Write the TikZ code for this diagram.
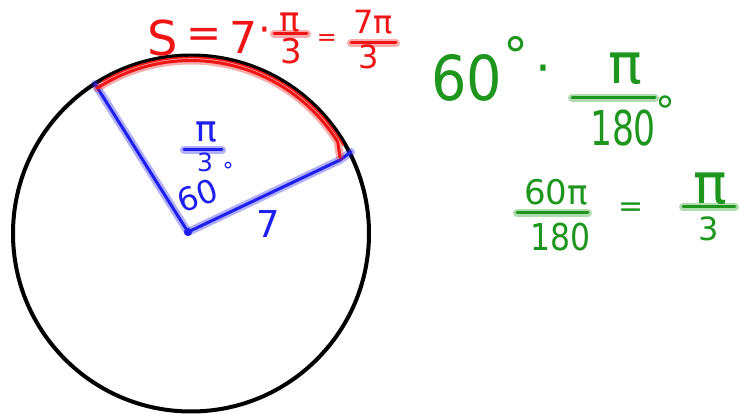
\documentclass[tikz,border=0pt]{standalone}
\usepackage{fontspec}
\setmainfont{DejaVu Sans}
\usetikzlibrary{calc}
\definecolor{hred}{RGB}{240,20,20}
\definecolor{hgreen}{RGB}{30,150,30}
\definecolor{hblue}{RGB}{30,30,240}
\newcommand{\nrw}[2]{\scalebox{#1}[1]{#2}}
\begin{document}
\begin{tikzpicture}[x=1pt,y=-1pt,
  lbl/.style={inner sep=0pt, anchor=center},
  deg/.style={inner sep=0pt, anchor=north},
  fs/.style={font=\fontsize{#1}{#1}\selectfont},
  ink/.style={draw=#1, preaction={draw=#1, line width=8pt, draw opacity=0.35, line cap=round, line join=round},
              line width=3pt, line cap=round, line join=round}]
\useasboundingbox (0,0) rectangle (740,414);
\fill[white] (0,0) rectangle (740,414);

% circle
\coordinate (O) at (191,233.5);
\draw[line width=4pt] (O) circle[radius=178];

% radii
\node[circle, fill=hblue, inner sep=0pt, minimum size=8pt] (dot) at (188,232) {};
\coordinate (A) at (95,84);
\coordinate (B) at (351,152);
\draw[ink=hblue] (dot.center) -- (A);
\draw[ink=hblue] (dot.center) -- (340,160) -- (B);

% red arc
\draw[ink=hred] ($(O)+(-122.8:173)$) arc[start angle=-122.8, end angle=-32, radius=173] -- (340,157);
\draw[hred, line width=1.5pt] ($(O)+(-120:176)$) arc[start angle=-120, end angle=-30, radius=176];

% red formula
\node[lbl,fs=48,text=hred] (rS) at (163,38) {S};
\node[lbl,fs=42,text=hred] (req1) at (204,38) {=};
\node[lbl,fs=44,text=hred] (r7) at (243,37) {7};
\node[lbl,fs=40,text=hred] (rdot) at (265,35) {·};
\node[lbl,fs=34,text=hred] (rpi) at (290,23) {π};
\draw[ink=hred] (274,34) -- (307,34);
\node[lbl,fs=34,text=hred] (r3) at (291,51) {3};
\node[lbl,fs=24,text=hred] (req2) at (327,40) {=};
\node[lbl,fs=32,text=hred] (r7pi) at (373,22) {7π};
\draw[ink=hred] (351,43) -- (396,43);
\node[lbl,fs=32,text=hred] (r3b) at (369,57) {3};

% green line 1
\node[lbl,fs=62,text=hgreen] (g60) at (467,78) {\nrw{0.9}{60}};
\node[deg,fs=50,text=hgreen] (gdeg1) at (516,36) {°};
\node[lbl,fs=50,text=hgreen] (gdot) at (543,75) {·};
\node[lbl,fs=56,text=hgreen] (gpi) at (625,69) {π};
\draw[ink=hgreen] (572,98) -- (655,98);
\node[lbl,fs=48,text=hgreen] (g180) at (623,128) {\nrw{0.72}{180}};
\node[deg,fs=40,text=hgreen] (gdeg2) at (665,96) {°};

% green line 2
\node[lbl,fs=34,text=hgreen] (g60pi) at (556,192) {60π};
\draw[ink=hgreen] (517,213) -- (588,213);
\node[lbl,fs=37,text=hgreen] (g180b) at (561,237) {\nrw{0.85}{180}};
\node[lbl,fs=30,text=hgreen] (geq) at (631,210) {=};
\node[lbl,fs=56,text=hgreen] (gpi2) at (710,189) {π};
\draw[ink=hgreen] (683,207) -- (735,207);
\node[lbl,fs=32,text=hgreen] (g3) at (709,229) {3};

% blue labels
\node[lbl,fs=36,text=hblue] (bpi) at (206,132) {π};
\draw[ink=hblue] (184,150) -- (222,150);
\node[lbl,fs=25,text=hblue] (b3) at (205,162) {3};
\node[lbl,fs=32,text=hblue,rotate=20] (b60) at (198,196) {60};
\node[deg,fs=22,text=hblue] (bdeg) at (228,162) {°};
\node[lbl,fs=37,text=hblue] (b7) at (268,224) {7};
\end{tikzpicture}
\end{document}
